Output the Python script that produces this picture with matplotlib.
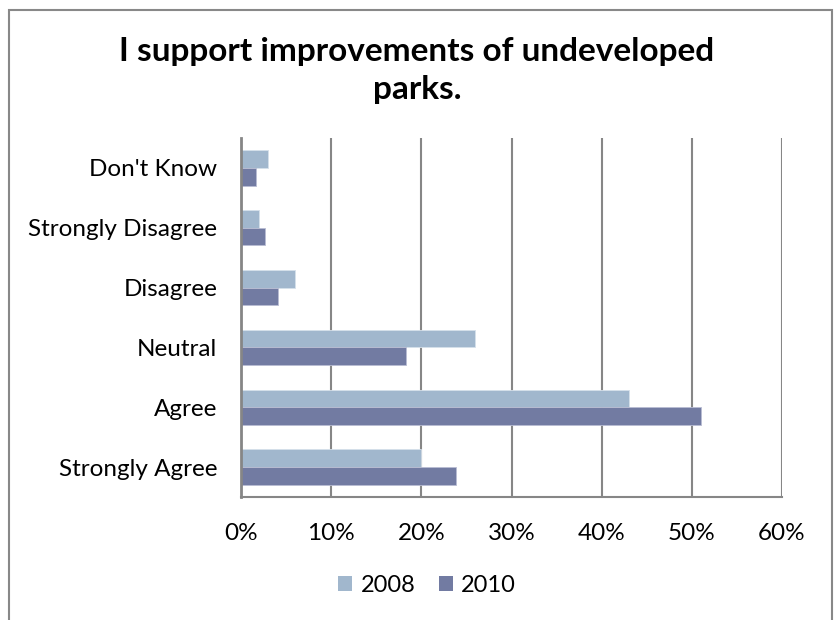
import matplotlib
matplotlib.use("Agg")
import matplotlib.pyplot as plt
from matplotlib.patches import Rectangle, Patch
from matplotlib.ticker import PercentFormatter
import numpy as np

categories = ["Strongly Agree", "Agree", "Neutral", "Disagree",
              "Strongly Disagree", "Don't Know"]
values_2008 = [20.0, 43.0, 26.0, 6.0, 2.0, 3.0]
values_2010 = [23.9, 51.0, 18.3, 4.1, 2.7, 1.7]
series_labels = ["2008", "2010"]
x_ticks = [0, 10, 20, 30, 40, 50, 60]

color_2008 = "#A1B7CD"
color_2010 = "#727BA2"
grid_color = "#868686"

plt.rcParams["font.family"] = ["Lato", "DejaVu Sans"]

fig = plt.figure(figsize=(8.34, 6.2), dpi=100)
ax = fig.add_axes([241 / 834, 1 - 497 / 620, (782 - 241) / 834, (497 - 138) / 620])

y = np.arange(len(categories))
h = 0.296
ax.barh(y + h / 2, values_2008, height=h, color=color_2008,
        edgecolor="#D6E0EA", linewidth=0.6, zorder=3)
ax.barh(y - h / 2, values_2010, height=h, color=color_2010,
        edgecolor="#B9BDD3", linewidth=0.6, zorder=3)

ax.set_xlim(0, 60)
ax.set_ylim(-0.5, len(categories) - 0.5)
ax.set_xticks(x_ticks)
ax.xaxis.set_major_formatter(PercentFormatter(decimals=0))
ax.set_yticks(y)
ax.set_yticklabels(categories)
ax.tick_params(axis="both", length=0, labelsize=17.5, colors="black")
ax.tick_params(axis="y", pad=17)
ax.tick_params(axis="x", pad=19)

ax.grid(axis="x", color=grid_color, linewidth=1.5, zorder=0)
ax.grid(axis="y", visible=False)
for side in ("top", "right"):
    ax.spines[side].set_visible(False)
ax.spines["left"].set_color(grid_color)
ax.spines["left"].set_linewidth(2)
ax.spines["left"].set_zorder(4)
ax.spines["bottom"].set_color(grid_color)
ax.spines["bottom"].set_linewidth(1.5)

fig.text(0.5, 1 - 51 / 620, "I support improvements of undeveloped",
         ha="center", va="center", fontsize=24, fontweight="bold")
fig.text(0.5, 1 - 89 / 620, "parks.",
         ha="center", va="center", fontsize=24, fontweight="bold")

handles = [Patch(facecolor=color_2008), Patch(facecolor=color_2010)]
fig.legend(handles, series_labels, loc="center", bbox_to_anchor=(427 / 834, 1 - 585 / 620),
           ncol=2, frameon=False, fontsize=17, handlelength=0.6, handleheight=0.6,
           handletextpad=0.35, columnspacing=1.0)

fig.patches.append(Rectangle((9 / 834, -0.05), (832 - 9) / 834, 1.05 - 10 / 620,
                             transform=fig.transFigure, fill=False,
                             edgecolor="#888888", linewidth=1.5))

fig.savefig("out.png", dpi=100)
